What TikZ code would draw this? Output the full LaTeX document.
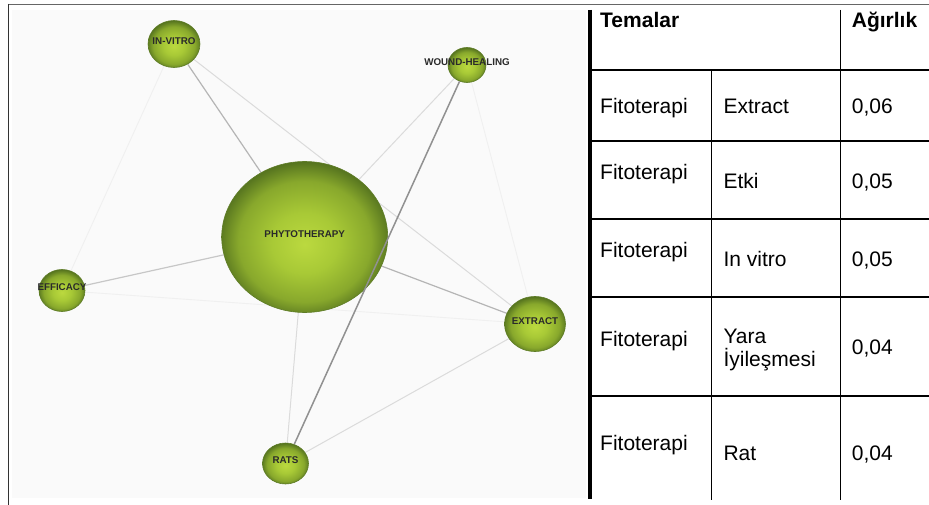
\documentclass[tikz,border=0pt]{standalone}
\usepackage{fontspec}
\setmainfont{Liberation Sans}
\usetikzlibrary{shapes.geometric,backgrounds}
\definecolor{gA}{HTML}{BBD93F}
\definecolor{gB}{HTML}{A8C936}
\definecolor{gC}{HTML}{88A82C}
\definecolor{gD}{HTML}{52701E}
\definecolor{rimC}{HTML}{5E7C26}
\definecolor{panelC}{HTML}{FAFAFA}
\definecolor{lblC}{HTML}{2A2A2A}
\pgfdeclareradialshading{ballgreen}{\pgfpoint{0bp}{-2.5bp}}{color(0bp)=(gA); color(10bp)=(gB); color(20bp)=(gC); color(26.5bp)=(gD); color(50bp)=(gD)}
\tikzset{
  gnode/.style={ellipse, inner sep=0pt, shade, shading=ballgreen, draw=rimC, line width=0.6pt},
  glabel/.style={font=\fontsize{9.8}{12}\selectfont\bfseries, text=lblC, inner sep=0pt, yshift=3pt},
  edgeA/.style={draw=black!43, line width=1.5pt},
  edgeB/.style={draw=black!29, line width=1.2pt},
  edgeC/.style={draw=black!22, line width=1.2pt},
  edgeD/.style={draw=black!14, line width=1pt},
  edgeE/.style={draw=black!6, line width=0.9pt},
  tline/.style={draw=black, line width=1.3pt},
  ttext/.style={font=\fontsize{21}{23.4}\selectfont, anchor=base west, inner sep=0pt},
  thead/.style={font=\fontsize{21}{23.4}\selectfont\bfseries, anchor=base west, inner sep=0pt}
}
\begin{document}
\begin{tikzpicture}[x=1pt,y=-1pt]
\useasboundingbox (0,0) rectangle (929,505);

% graph nodes
\node[gnode, minimum width=166pt, minimum height=151pt] (phy) at (304.7,237) {};
\node[gnode, minimum width=52pt, minimum height=47pt] (invitro) at (174,44) {};
\node[gnode, minimum width=38pt, minimum height=35pt] (wound) at (467,65) {};
\node[gnode, minimum width=46pt, minimum height=42pt] (efficacy) at (62,290.5) {};
\node[gnode, minimum width=61pt, minimum height=55pt] (extract) at (535,324) {};
\node[gnode, minimum width=46pt, minimum height=41pt] (rats) at (285.5,463.5) {};

\begin{pgfonlayer}{background}
\fill[white] (0,0) rectangle (929,505);
\fill[panelC] (12,10) rectangle (586,498);
\draw[edgeE] (invitro) -- (efficacy);
\draw[edgeE] (wound) -- (extract);
\draw[edgeE] (efficacy) -- (extract);
\draw[edgeD] (invitro) -- (extract);
\draw[edgeD] (phy) -- (wound);
\draw[edgeD] (phy) -- (rats);
\draw[edgeD] (rats) -- (extract);
\draw[edgeC] (phy) -- (efficacy);
\draw[edgeB] (phy) -- (invitro);
\draw[edgeB] (phy) -- (extract);
\end{pgfonlayer}
\draw[edgeA] (wound) -- (rats);

% frame
\draw[draw=black!60, line width=1.2pt] (8,4.5) -- (929,4.5);
\draw[draw=black!80, line width=1.5pt] (8.5,4) -- (8.5,505);

% graph labels
\node[glabel] (phyT) at (phy) {PHYTOTHERAPY};
\node[glabel] (invitroT) at (invitro) {IN-VITRO};
\node[glabel] (woundT) at (wound) {WOUND-HEALING};
\node[glabel] (efficacyT) at (efficacy) {EFFICACY};
\node[glabel] (extractT) at (extract) {EXTRACT};
\node[glabel] (ratsT) at (rats) {RATS};

% table lines
\draw[draw=black, line width=4pt] (589.5,10) -- (589.5,499);
\draw[tline] (840.7,10) -- (840.7,500);
\draw[tline] (711.7,70) -- (711.7,500);
\foreach \yy in {70,141,219,297,396} {
  \draw[tline] (591.5,\yy) -- (929,\yy);
}

% table text
\node[thead] (hTem) at (600,27.3) {Temalar};
\node[thead] (hAg) at (851.7,27.3) {Ağırlık};

\node[ttext] (r1a) at (600,113.5) {Fitoterapi};
\node[ttext] (r1b) at (723.3,113.5) {Extract};
\node[ttext] (r1c) at (851.7,113.5) {0,06};

\node[ttext] (r2a) at (600,179.3) {Fitoterapi};
\node[ttext] (r2b) at (723.3,188.3) {Etki};
\node[ttext] (r2c) at (851.7,188.3) {0,05};

\node[ttext] (r3a) at (600,257.7) {Fitoterapi};
\node[ttext] (r3b) at (723.3,266.7) {In vitro};
\node[ttext] (r3c) at (851.7,266.7) {0,05};

\node[ttext] (r4a) at (600,346) {Fitoterapi};
\node[ttext] (r4b) at (723.3,343.3) {Yara};
\node[ttext] (r4b2) at (723.3,366.7) {İyileşmesi};
\node[ttext] (r4c) at (851.7,354) {0,04};

\node[ttext] (r5a) at (600,450.7) {Fitoterapi};
\node[ttext] (r5b) at (723.3,460) {Rat};
\node[ttext] (r5c) at (851.7,460) {0,04};
\end{tikzpicture}
\end{document}
